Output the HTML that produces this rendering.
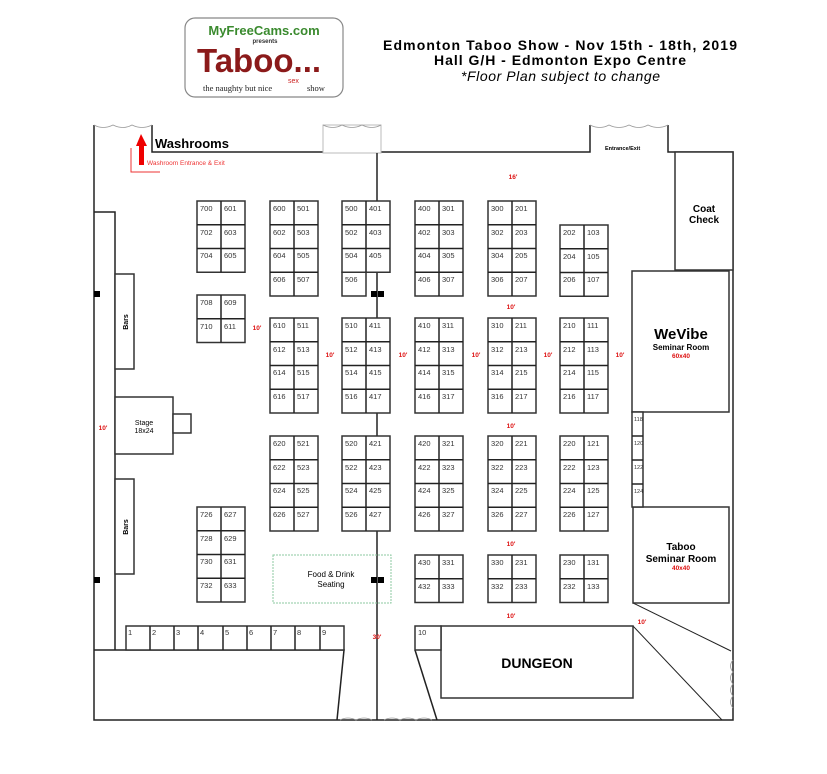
<!DOCTYPE html>
<html><head><meta charset="utf-8"><style>
html,body{margin:0;padding:0;background:#fff;}
svg{display:block;font-family:"Liberation Sans","DejaVu Sans",sans-serif;}
.b rect{fill:#fff;stroke:#333;stroke-width:1.5}
.b line{stroke:#222;stroke-width:1.5}
.b text{font-size:7.5px;fill:#333}
.w{stroke:#222;stroke-width:1.5;fill:none}
.r{fill:#d11;font-size:6.5px;font-weight:bold}
</style></head><body>
<svg width="827" height="774" viewBox="0 0 827 774" xmlns="http://www.w3.org/2000/svg">
<!-- logo -->
<rect x="185" y="18" width="158" height="79" rx="10" fill="#fff" stroke="#888" stroke-width="1.2"/>
<text x="264" y="35" text-anchor="middle" font-size="13" font-weight="bold" fill="#3a8a2e">MyFreeCams.com</text>
<text x="265" y="43" text-anchor="middle" font-size="6" font-weight="bold" fill="#333">presents</text>
<text x="197" y="72" font-size="33" font-weight="bold" fill="#8b1a1a">Taboo...</text>
<text x="203" y="91" font-size="8.5" fill="#222" font-family="Liberation Serif,serif">the naughty but nice</text>
<text x="288" y="83" font-size="7" fill="#c22">sex</text>
<text x="307" y="91" font-size="8.5" fill="#222" font-family="Liberation Serif,serif">show</text>
<!-- title -->
<text x="383" y="50" font-size="14" font-weight="bold" textLength="354" lengthAdjust="spacing">Edmonton Taboo Show - Nov 15th - 18th, 2019</text>
<text x="434" y="65" font-size="14" font-weight="bold" textLength="252" lengthAdjust="spacing">Hall G/H - Edmonton Expo Centre</text>
<text x="461" y="81" font-size="14" font-style="italic" textLength="199" lengthAdjust="spacing">*Floor Plan subject to change</text>

<!-- walls -->
<g class="w">
<path d="M94 125 V720 H733 V152 H668 V125"/>
<path d="M590 125 V152 H381"/>
<path d="M152 125 V152 H323"/>
<rect x="323" y="125" width="58" height="28" stroke="#bbb" stroke-width="1"/>
<path d="M377 153 V720"/>
<path d="M94 212 H115 V650"/>
<path d="M94 650 H344 L337 720"/>
<path d="M415 650 L437 720"/>
<path d="M633 603 L731 651" stroke-width="1"/>
<path d="M633 626 L722 720" stroke-width="1"/>
</g>
<!-- door arcs -->
<g fill="none" stroke="#999" stroke-width="0.8">
<path d="M94 125 q9 5 19 0 q10 5 19 0 q10 5 20 0"/>
<path d="M323 125 q10 5 19 0 q10 5 20 0 q10 5 19 0"/>
<path d="M590 125 q10 5 19 0 q10 5 20 0 q10 5 19 0 q10 5 20 0"/>
<path d="M733 660 q-5 6 0 12 q-5 6 0 12 q-5 6 0 12 q-5 6 0 12"/>
<path d="M340 720 q8 -4 16 0 q8 -4 16 0 M384 720 q8 -4 16 0 q8 -4 16 0 q8 -4 16 0"/>
</g>
<!-- washroom -->
<text x="155" y="148" font-size="13" font-weight="bold">Washrooms</text>
<path d="M131 148 V172 H160" stroke="#e33" fill="none" stroke-width="1"/>
<polygon points="141,134 136,146 139,146 139,165 144,165 144,146 147,146" fill="#e00"/>
<text x="147" y="165" font-size="6.5" fill="#e33">Washroom Entrance &amp; Exit</text>
<text x="605" y="150" font-size="5.5" font-weight="bold">Entrance/Exit</text>

<!-- left side -->
<g class="b">
<rect x="115" y="274" width="19" height="95"/>
<rect x="115" y="479" width="19" height="95"/>
<rect x="115" y="397" width="58" height="57"/>
<rect x="173" y="414" width="18" height="19"/>
</g>
<text x="128" y="322" font-size="7" font-weight="bold" transform="rotate(-90 128 322)" text-anchor="middle">Bars</text>
<text x="128" y="527" font-size="7" font-weight="bold" transform="rotate(-90 128 527)" text-anchor="middle">Bars</text>
<text x="144" y="425" font-size="7" text-anchor="middle">Stage</text>
<text x="144" y="433" font-size="7" text-anchor="middle">18x24</text>
<rect x="94" y="291" width="6" height="6"/>
<rect x="94" y="577" width="6" height="6"/>
<rect x="371" y="291" width="6" height="6"/><rect x="378" y="291" width="6" height="6"/>
<rect x="371" y="577" width="6" height="6"/><rect x="378" y="577" width="6" height="6"/>

<!-- right rooms -->
<g class="b">
<rect x="675" y="152" width="58" height="118"/>
<rect x="632" y="271" width="97" height="141"/>
<rect x="633" y="507" width="96" height="96"/>
<rect x="632" y="412" width="11" height="95"/>
<line x1="632" y1="436" x2="643" y2="436"/><line x1="632" y1="460" x2="643" y2="460"/><line x1="632" y1="484" x2="643" y2="484"/>
<text x="634" y="421" style="font-size:5.5px">118</text><text x="634" y="445" style="font-size:5.5px">120</text><text x="634" y="469" style="font-size:5.5px">122</text><text x="634" y="493" style="font-size:5.5px">124</text>
<rect x="441" y="626" width="192" height="72"/>
<rect x="415" y="626" width="26" height="24"/>
<text x="418" y="635">10</text>
</g>
<text x="704" y="212" font-size="10" font-weight="bold" text-anchor="middle">Coat</text>
<text x="704" y="223" font-size="10" font-weight="bold" text-anchor="middle">Check</text>
<text x="681" y="339" font-size="15" font-weight="bold" text-anchor="middle">WeVibe</text>
<text x="681" y="350" font-size="8" font-weight="bold" text-anchor="middle">Seminar Room</text>
<text x="681" y="358" class="r" text-anchor="middle">60x40</text>
<text x="681" y="550" font-size="10" font-weight="bold" text-anchor="middle">Taboo</text>
<text x="681" y="562" font-size="10" font-weight="bold" text-anchor="middle">Seminar Room</text>
<text x="681" y="570" class="r" text-anchor="middle">40x40</text>
<text x="537" y="668" font-size="14" font-weight="bold" text-anchor="middle">DUNGEON</text>

<!-- food -->
<rect x="273" y="555" width="118" height="48" fill="none" stroke="#8cc8a0" stroke-dasharray="2,1"/>
<text x="331" y="577" font-size="8" text-anchor="middle">Food &amp; Drink</text>
<text x="331" y="587" font-size="8" text-anchor="middle">Seating</text>

<!-- bottom booths 1-9 -->
<g class="b">
<rect x="126" y="626" width="218" height="24"/>
<line x1="150" y1="626" x2="150" y2="650"/><line x1="174" y1="626" x2="174" y2="650"/><line x1="198" y1="626" x2="198" y2="650"/><line x1="223" y1="626" x2="223" y2="650"/><line x1="247" y1="626" x2="247" y2="650"/><line x1="271" y1="626" x2="271" y2="650"/><line x1="295" y1="626" x2="295" y2="650"/><line x1="320" y1="626" x2="320" y2="650"/>
<text x="128" y="635">1</text><text x="152" y="635">2</text><text x="176" y="635">3</text><text x="200" y="635">4</text><text x="225" y="635">5</text><text x="249" y="635">6</text><text x="273" y="635">7</text><text x="297" y="635">8</text><text x="322" y="635">9</text>
</g>

<!-- booth blocks -->
<g class="b">
<g transform="translate(197,201)"><rect width="48" height="71.25"/><line x1="24" y1="0" x2="24" y2="71.25"/><line x1="0" y1="23.75" x2="48" y2="23.75"/><line x1="0" y1="47.5" x2="48" y2="47.5"/>
<text x="3" y="10">700</text><text x="27" y="10">601</text><text x="3" y="34">702</text><text x="27" y="34">603</text><text x="3" y="57">704</text><text x="27" y="57">605</text></g>
<g transform="translate(197,295)"><rect width="48" height="47.5"/><line x1="24" y1="0" x2="24" y2="47.5"/><line x1="0" y1="23.75" x2="48" y2="23.75"/>
<text x="3" y="10">708</text><text x="27" y="10">609</text><text x="3" y="34">710</text><text x="27" y="34">611</text></g>
<g transform="translate(197,507)"><rect width="48" height="95"/><line x1="24" y1="0" x2="24" y2="95"/><line x1="0" y1="23.75" x2="48" y2="23.75"/><line x1="0" y1="47.5" x2="48" y2="47.5"/><line x1="0" y1="71.25" x2="48" y2="71.25"/>
<text x="3" y="10">726</text><text x="27" y="10">627</text><text x="3" y="34">728</text><text x="27" y="34">629</text><text x="3" y="57">730</text><text x="27" y="57">631</text><text x="3" y="81">732</text><text x="27" y="81">633</text></g>

<g transform="translate(270,201)"><rect width="48" height="95"/><line x1="24" y1="0" x2="24" y2="95"/><line x1="0" y1="23.75" x2="48" y2="23.75"/><line x1="0" y1="47.5" x2="48" y2="47.5"/><line x1="0" y1="71.25" x2="48" y2="71.25"/>
<text x="3" y="10">600</text><text x="27" y="10">501</text><text x="3" y="34">602</text><text x="27" y="34">503</text><text x="3" y="57">604</text><text x="27" y="57">505</text><text x="3" y="81">606</text><text x="27" y="81">507</text></g>
<g transform="translate(342,201)"><rect width="48" height="71.25"/><rect y="71.25" width="24" height="23.75"/><line x1="24" y1="0" x2="24" y2="71.25"/><line x1="0" y1="23.75" x2="48" y2="23.75"/><line x1="0" y1="47.5" x2="48" y2="47.5"/>
<text x="3" y="10">500</text><text x="27" y="10">401</text><text x="3" y="34">502</text><text x="27" y="34">403</text><text x="3" y="57">504</text><text x="27" y="57">405</text><text x="3" y="81">506</text></g>
<g transform="translate(415,201)"><rect width="48" height="95"/><line x1="24" y1="0" x2="24" y2="95"/><line x1="0" y1="23.75" x2="48" y2="23.75"/><line x1="0" y1="47.5" x2="48" y2="47.5"/><line x1="0" y1="71.25" x2="48" y2="71.25"/>
<text x="3" y="10">400</text><text x="27" y="10">301</text><text x="3" y="34">402</text><text x="27" y="34">303</text><text x="3" y="57">404</text><text x="27" y="57">305</text><text x="3" y="81">406</text><text x="27" y="81">307</text></g>
<g transform="translate(488,201)"><rect width="48" height="95"/><line x1="24" y1="0" x2="24" y2="95"/><line x1="0" y1="23.75" x2="48" y2="23.75"/><line x1="0" y1="47.5" x2="48" y2="47.5"/><line x1="0" y1="71.25" x2="48" y2="71.25"/>
<text x="3" y="10">300</text><text x="27" y="10">201</text><text x="3" y="34">302</text><text x="27" y="34">203</text><text x="3" y="57">304</text><text x="27" y="57">205</text><text x="3" y="81">306</text><text x="27" y="81">207</text></g>
<g transform="translate(560,225)"><rect width="48" height="71.25"/><line x1="24" y1="0" x2="24" y2="71.25"/><line x1="0" y1="23.75" x2="48" y2="23.75"/><line x1="0" y1="47.5" x2="48" y2="47.5"/>
<text x="3" y="10">202</text><text x="27" y="10">103</text><text x="3" y="34">204</text><text x="27" y="34">105</text><text x="3" y="57">206</text><text x="27" y="57">107</text></g>

<g transform="translate(270,318)"><rect width="48" height="95"/><line x1="24" y1="0" x2="24" y2="95"/><line x1="0" y1="23.75" x2="48" y2="23.75"/><line x1="0" y1="47.5" x2="48" y2="47.5"/><line x1="0" y1="71.25" x2="48" y2="71.25"/>
<text x="3" y="10">610</text><text x="27" y="10">511</text><text x="3" y="34">612</text><text x="27" y="34">513</text><text x="3" y="57">614</text><text x="27" y="57">515</text><text x="3" y="81">616</text><text x="27" y="81">517</text></g>
<g transform="translate(342,318)"><rect width="48" height="95"/><line x1="24" y1="0" x2="24" y2="95"/><line x1="0" y1="23.75" x2="48" y2="23.75"/><line x1="0" y1="47.5" x2="48" y2="47.5"/><line x1="0" y1="71.25" x2="48" y2="71.25"/>
<text x="3" y="10">510</text><text x="27" y="10">411</text><text x="3" y="34">512</text><text x="27" y="34">413</text><text x="3" y="57">514</text><text x="27" y="57">415</text><text x="3" y="81">516</text><text x="27" y="81">417</text></g>
<g transform="translate(415,318)"><rect width="48" height="95"/><line x1="24" y1="0" x2="24" y2="95"/><line x1="0" y1="23.75" x2="48" y2="23.75"/><line x1="0" y1="47.5" x2="48" y2="47.5"/><line x1="0" y1="71.25" x2="48" y2="71.25"/>
<text x="3" y="10">410</text><text x="27" y="10">311</text><text x="3" y="34">412</text><text x="27" y="34">313</text><text x="3" y="57">414</text><text x="27" y="57">315</text><text x="3" y="81">416</text><text x="27" y="81">317</text></g>
<g transform="translate(488,318)"><rect width="48" height="95"/><line x1="24" y1="0" x2="24" y2="95"/><line x1="0" y1="23.75" x2="48" y2="23.75"/><line x1="0" y1="47.5" x2="48" y2="47.5"/><line x1="0" y1="71.25" x2="48" y2="71.25"/>
<text x="3" y="10">310</text><text x="27" y="10">211</text><text x="3" y="34">312</text><text x="27" y="34">213</text><text x="3" y="57">314</text><text x="27" y="57">215</text><text x="3" y="81">316</text><text x="27" y="81">217</text></g>
<g transform="translate(560,318)"><rect width="48" height="95"/><line x1="24" y1="0" x2="24" y2="95"/><line x1="0" y1="23.75" x2="48" y2="23.75"/><line x1="0" y1="47.5" x2="48" y2="47.5"/><line x1="0" y1="71.25" x2="48" y2="71.25"/>
<text x="3" y="10">210</text><text x="27" y="10">111</text><text x="3" y="34">212</text><text x="27" y="34">113</text><text x="3" y="57">214</text><text x="27" y="57">115</text><text x="3" y="81">216</text><text x="27" y="81">117</text></g>

<g transform="translate(270,436)"><rect width="48" height="95"/><line x1="24" y1="0" x2="24" y2="95"/><line x1="0" y1="23.75" x2="48" y2="23.75"/><line x1="0" y1="47.5" x2="48" y2="47.5"/><line x1="0" y1="71.25" x2="48" y2="71.25"/>
<text x="3" y="10">620</text><text x="27" y="10">521</text><text x="3" y="34">622</text><text x="27" y="34">523</text><text x="3" y="57">624</text><text x="27" y="57">525</text><text x="3" y="81">626</text><text x="27" y="81">527</text></g>
<g transform="translate(342,436)"><rect width="48" height="95"/><line x1="24" y1="0" x2="24" y2="95"/><line x1="0" y1="23.75" x2="48" y2="23.75"/><line x1="0" y1="47.5" x2="48" y2="47.5"/><line x1="0" y1="71.25" x2="48" y2="71.25"/>
<text x="3" y="10">520</text><text x="27" y="10">421</text><text x="3" y="34">522</text><text x="27" y="34">423</text><text x="3" y="57">524</text><text x="27" y="57">425</text><text x="3" y="81">526</text><text x="27" y="81">427</text></g>
<g transform="translate(415,436)"><rect width="48" height="95"/><line x1="24" y1="0" x2="24" y2="95"/><line x1="0" y1="23.75" x2="48" y2="23.75"/><line x1="0" y1="47.5" x2="48" y2="47.5"/><line x1="0" y1="71.25" x2="48" y2="71.25"/>
<text x="3" y="10">420</text><text x="27" y="10">321</text><text x="3" y="34">422</text><text x="27" y="34">323</text><text x="3" y="57">424</text><text x="27" y="57">325</text><text x="3" y="81">426</text><text x="27" y="81">327</text></g>
<g transform="translate(488,436)"><rect width="48" height="95"/><line x1="24" y1="0" x2="24" y2="95"/><line x1="0" y1="23.75" x2="48" y2="23.75"/><line x1="0" y1="47.5" x2="48" y2="47.5"/><line x1="0" y1="71.25" x2="48" y2="71.25"/>
<text x="3" y="10">320</text><text x="27" y="10">221</text><text x="3" y="34">322</text><text x="27" y="34">223</text><text x="3" y="57">324</text><text x="27" y="57">225</text><text x="3" y="81">326</text><text x="27" y="81">227</text></g>
<g transform="translate(560,436)"><rect width="48" height="95"/><line x1="24" y1="0" x2="24" y2="95"/><line x1="0" y1="23.75" x2="48" y2="23.75"/><line x1="0" y1="47.5" x2="48" y2="47.5"/><line x1="0" y1="71.25" x2="48" y2="71.25"/>
<text x="3" y="10">220</text><text x="27" y="10">121</text><text x="3" y="34">222</text><text x="27" y="34">123</text><text x="3" y="57">224</text><text x="27" y="57">125</text><text x="3" y="81">226</text><text x="27" y="81">127</text></g>

<g transform="translate(415,555)"><rect width="48" height="47.5"/><line x1="24" y1="0" x2="24" y2="47.5"/><line x1="0" y1="23.75" x2="48" y2="23.75"/>
<text x="3" y="10">430</text><text x="27" y="10">331</text><text x="3" y="34">432</text><text x="27" y="34">333</text></g>
<g transform="translate(488,555)"><rect width="48" height="47.5"/><line x1="24" y1="0" x2="24" y2="47.5"/><line x1="0" y1="23.75" x2="48" y2="23.75"/>
<text x="3" y="10">330</text><text x="27" y="10">231</text><text x="3" y="34">332</text><text x="27" y="34">233</text></g>
<g transform="translate(560,555)"><rect width="48" height="47.5"/><line x1="24" y1="0" x2="24" y2="47.5"/><line x1="0" y1="23.75" x2="48" y2="23.75"/>
<text x="3" y="10">230</text><text x="27" y="10">131</text><text x="3" y="34">232</text><text x="27" y="34">133</text></g>
</g>

<g class="r" text-anchor="middle">
<text x="513" y="179">16'</text>
<text x="511" y="309">10'</text>
<text x="257" y="330">10'</text>
<text x="330" y="357">10'</text>
<text x="403" y="357">10'</text>
<text x="476" y="357">10'</text>
<text x="548" y="357">10'</text>
<text x="620" y="357">10'</text>
<text x="103" y="430">10'</text>
<text x="511" y="428">10'</text>
<text x="511" y="546">10'</text>
<text x="511" y="618">10'</text>
<text x="642" y="624">10'</text>
<text x="377" y="639">30'</text>
</g>
</svg>
</body></html>
